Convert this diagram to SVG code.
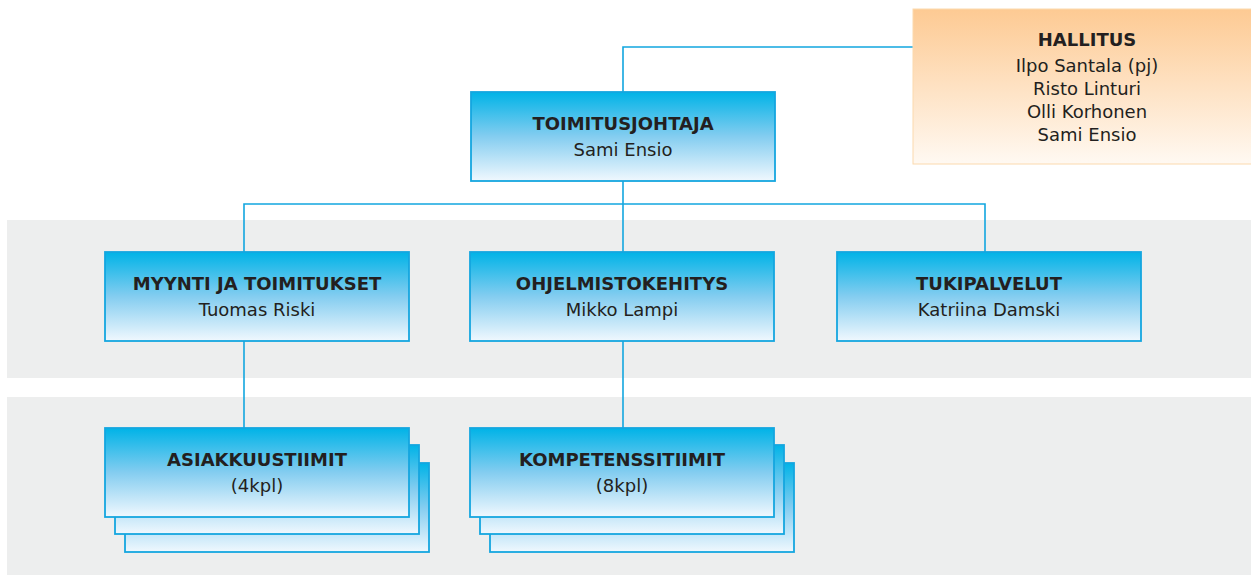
<svg xmlns="http://www.w3.org/2000/svg" width="1251" height="575" viewBox="0 0 1251 575">
<style>
.band{fill:#edeeee}
.box{fill:url(#blue);stroke:#14a6df;stroke-width:1.8}
.hbox{fill:url(#orange);stroke:#fbd9ae;stroke-width:1}
.t{font-family:"DejaVu Sans",sans-serif;font-weight:bold;font-size:18px;fill:#231f20;text-anchor:middle}
.n{font-family:"DejaVu Sans",sans-serif;font-size:18px;fill:#231f20;text-anchor:middle}
.c{fill:none;stroke:#12a6df;stroke-width:1.6}
</style>
<defs>
<linearGradient id="blue" x1="0" y1="0" x2="0" y2="1">
<stop offset="0" stop-color="#00b3e7"/>
<stop offset="0.5" stop-color="#84cdf0"/>
<stop offset="1" stop-color="#f0f8fe"/>
</linearGradient>
<linearGradient id="orange" x1="0" y1="0" x2="0" y2="1">
<stop offset="0" stop-color="#fdca93"/>
<stop offset="1" stop-color="#fff9f2"/>
</linearGradient>
</defs>
<rect class="band" x="7" y="220" width="1244" height="158"/>
<rect class="band" x="7" y="397" width="1244" height="178"/>
<g id="connectors">
<path class="c" d="M623 92 V47 H913"/>
<path class="c" d="M623 181 V252"/>
<path class="c" d="M244 252 V204 H985 V252"/>
<path class="c" d="M244 341 V428"/>
<path class="c" d="M623 341 V428"/>
</g>
<g id="hallitus">
<rect class="hbox" x="913" y="9" width="340" height="155"/>
<text class="t" x="1087" y="46">HALLITUS</text>
<text class="n" x="1087" y="72">Ilpo Santala (pj)</text>
<text class="n" x="1087" y="95">Risto Linturi</text>
<text class="n" x="1087" y="118">Olli Korhonen</text>
<text class="n" x="1087" y="141">Sami Ensio</text>
</g>
<g id="toimitusjohtaja">
<rect class="box" x="471" y="92" width="304" height="89"/>
<text class="t" x="623" y="130">TOIMITUSJOHTAJA</text>
<text class="n" x="623" y="156">Sami Ensio</text>
</g>
<g id="myynti">
<rect class="box" x="105" y="252" width="304" height="89"/>
<text class="t" x="257" y="290">MYYNTI JA TOIMITUKSET</text>
<text class="n" x="257" y="316">Tuomas Riski</text>
</g>
<g id="ohjelmistokehitys">
<rect class="box" x="470" y="252" width="304" height="89"/>
<text class="t" x="622" y="290">OHJELMISTOKEHITYS</text>
<text class="n" x="622" y="316">Mikko Lampi</text>
</g>
<g id="tukipalvelut">
<rect class="box" x="837" y="252" width="304" height="89"/>
<text class="t" x="989" y="290">TUKIPALVELUT</text>
<text class="n" x="989" y="316">Katriina Damski</text>
</g>
<g id="asiakkuustiimit">
<rect class="box" x="125" y="463" width="304" height="89"/>
<rect class="box" x="115" y="445" width="304" height="89"/>
<rect class="box" x="105" y="428" width="304" height="89"/>
<text class="t" x="257" y="466">ASIAKKUUSTIIMIT</text>
<text class="n" x="257" y="492">(4kpl)</text>
</g>
<g id="kompetenssitiimit">
<rect class="box" x="490" y="463" width="304" height="89"/>
<rect class="box" x="480" y="445" width="304" height="89"/>
<rect class="box" x="470" y="428" width="304" height="89"/>
<text class="t" x="622" y="466">KOMPETENSSITIIMIT</text>
<text class="n" x="622" y="492">(8kpl)</text>
</g>
</svg>
